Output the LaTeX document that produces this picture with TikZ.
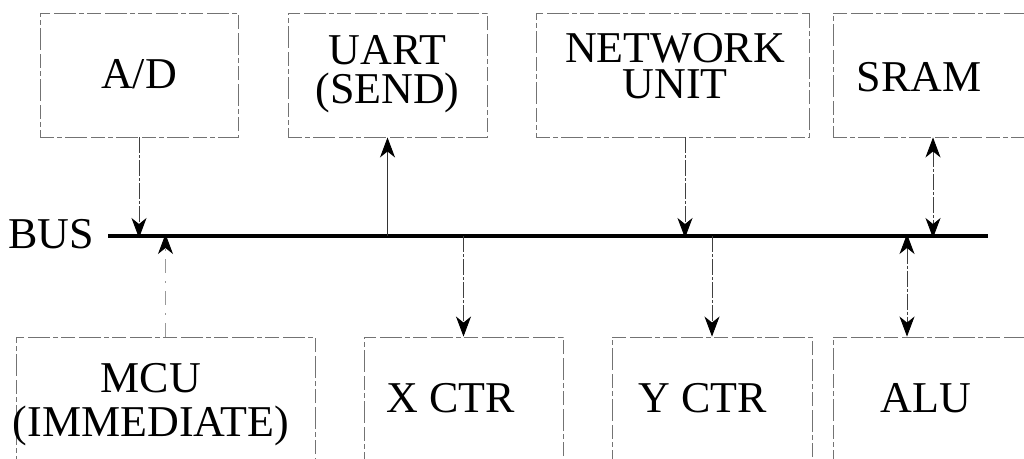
\documentclass[tikz,border=0pt]{standalone}
\usepackage{fontspec}
\setmainfont{Liberation Serif}
\usetikzlibrary{arrows.meta}

\tikzset{
  unitbox/.style={draw=black!55, line width=0.9pt,
    dash pattern=on 14pt off 3pt on 5pt off 3pt on 22pt off 4pt,
    minimum height=124pt, inner sep=0pt},
  lbl/.style={font=\fontsize{44}{39}\selectfont, align=center, inner sep=0pt},
  busline/.style={line width=4pt, black},
  conn/.style={line width=0.9pt, black!75, dash pattern=on 16pt off 2pt on 3pt off 2pt},
  solidconn/.style={line width=0.9pt, black!80},
  faintconn/.style={line width=0.9pt, black!40, dash pattern=on 14pt off 8pt on 2pt off 8pt},
  tip/.tip={Stealth[length=20pt, width=15pt, inset=6pt, color=black]},
}

\begin{document}
\begin{tikzpicture}[x=1pt, y=-1pt]
  \useasboundingbox (0,0) rectangle (1024,458);
  \clip (0,0) rectangle (1024,458);

  % upper row of units
  \node[unitbox, minimum width=198pt] (ad)   at (139,75) {};
  \node[unitbox, minimum width=199pt] (uart) at (387.5,75) {};
  \node[unitbox, minimum width=273pt] (net)  at (672.5,75) {};
  \node[unitbox, minimum width=200pt] (sram) at (933,75) {};

  \node[lbl] (adT)   at (139,74)   {A/D};
  \node[lbl] (uartT) at (387.5,74) {UART\\(SEND)};
  \node[lbl, font=\fontsize{44}{36}\selectfont] (netT) at (675,66) {NETWORK\\UNIT};
  \node[lbl] (sramT) at (919,77)   {SRAM};

  % lower row of units
  \node[unitbox, minimum width=299pt] (mcu)  at (165.5,399) {};
  \node[unitbox, minimum width=199pt] (xctr) at (463.5,399) {};
  \node[unitbox, minimum width=200pt] (yctr) at (712,399) {};
  \node[unitbox, minimum width=200pt] (alu)  at (933,399) {};

  \node[lbl, font=\fontsize{44}{44}\selectfont] (mcuT) at (151,405) {MCU\\(IMMEDIATE)};
  \node[lbl] (xctrT) at (451,398) {X CTR};
  \node[lbl] (yctrT) at (703,398) {Y CTR};
  \node[lbl] (aluT)  at (926,398) {ALU};

  % the bus
  \coordinate (busL) at (108,236);
  \coordinate (busR) at (988,236);
  \draw[busline] (busL) -- (busR);
  \node[lbl, anchor=base east] (busT) at (94,248) {BUS};

  % connections to the bus
  \draw[conn, -tip]      (ad.south) -- ([yshift=-2pt]ad.south |- busL);
  \draw[faintconn, -tip] (mcu.north) -- ([yshift=2pt]mcu.north |- busL);
  \draw[solidconn, -tip] (uart.south |- busL) -- (uart.south);
  \draw[conn, -tip]      (xctr.north |- busL) -- (xctr.north);
  \draw[conn, -tip]      ([xshift=12.5pt]net.south) -- ([xshift=12.5pt,yshift=-2pt]net.south |- busL);
  \draw[conn, -tip]      (yctr.north |- busL) -- (yctr.north);
  \draw[conn, tip-tip]   (sram.south) -- ([yshift=-2pt]sram.south |- busL);
  \draw[conn, tip-tip]   ([xshift=-26pt,yshift=2pt]alu.north |- busL) -- ([xshift=-26pt]alu.north);
\end{tikzpicture}
\end{document}
